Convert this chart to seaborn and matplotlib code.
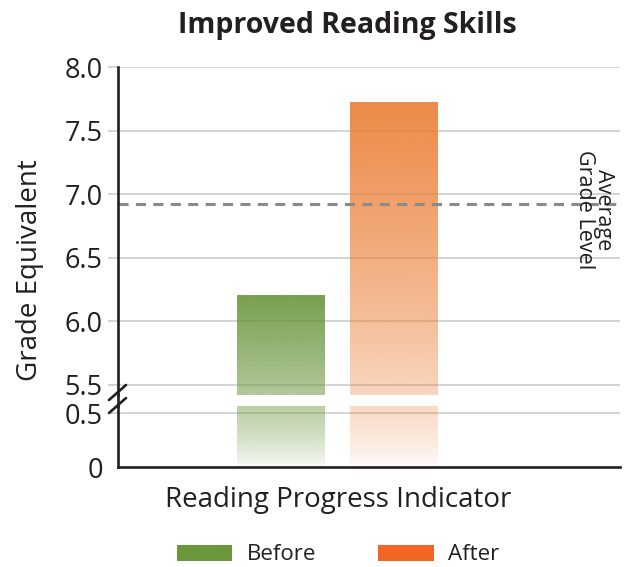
import numpy as np
import pandas as pd
import matplotlib
matplotlib.use("Agg")
import matplotlib.pyplot as plt
from matplotlib.lines import Line2D
from matplotlib.patches import Patch
from matplotlib.colors import to_rgb
import seaborn as sns

# ---- data ----
categories = ["Before", "After"]
values = [6.2, 7.72]
average_grade = 6.92
upper_ticks = [5.5, 6.0, 6.5, 7.0, 7.5, 8.0]
lower_ticks = [0, 0.5]
bar_colors = ["#6a953b", "#eb7d34"]
legend_colors = ["#6b983c", "#f26522"]

sns.set_theme(style="white")
plt.rcParams["font.family"] = ["Open Sans", "DejaVu Sans"]

W, H = 633, 567
fig = plt.figure(figsize=(W / 100, H / 100), dpi=100)


def rect(l, t, r, b):
    return [l / W, 1 - b / H, (r - l) / W, (b - t) / H]


ax_up = fig.add_axes(rect(118, 67, 620, 395))
ax_lo = fig.add_axes(rect(118, 406, 620, 467))

df = pd.DataFrame({"cat": categories, "val": values})
pal = dict(zip(categories, bar_colors))
for ax in (ax_up, ax_lo):
    sns.barplot(data=df, x="cat", y="val", hue="cat", palette=pal, ax=ax,
                width=0.78, legend=False, order=categories)

XLIM = (-1.449, 3.013)
YUP = (5.421, 8.0)
YLO = (0.0, 0.565)
for ax, yl in ((ax_up, YUP), (ax_lo, YLO)):
    ax.set_xlim(*XLIM)
    ax.set_ylim(*yl)
    ax.set_xlabel("")
    ax.set_ylabel("")
    ax.set_xticks([])

spine_c = "#231f20"
grid_c = "#c9c9c9"
# gridlines
for t in upper_ticks:
    ax_up.axhline(t, color=grid_c, lw=1.1, zorder=0.5)
ax_lo.axhline(0.5, color=grid_c, lw=1.1, zorder=0.5)

# gradient fill of bars
pix_zero = ax_lo.transData.transform((0, 0))[1]
for ax, yl in ((ax_up, YUP), (ax_lo, YLO)):
    for i, p in enumerate(ax.patches):
        x0, w = p.get_x(), p.get_width()
        top_val = values[i]
        pix_top = ax_up.transData.transform((0, top_val))[1]
        y_lo = yl[0]
        y_hi = min(top_val, yl[1])
        ys = np.linspace(y_hi, y_lo, 200)
        pix = ax.transData.transform(np.column_stack([np.zeros_like(ys), ys]))[:, 1]
        frac = np.clip((pix - pix_zero) / (pix_top - pix_zero), 0, 1)
        alpha = 0.9 * frac ** 0.65
        rgb = to_rgb(bar_colors[i])
        img = np.zeros((len(ys), 1, 4))
        img[:, 0, :3] = rgb
        img[:, 0, 3] = alpha
        ax.imshow(img, extent=[x0, x0 + w, y_lo, y_hi], aspect="auto",
                  interpolation="bilinear", zorder=1)
        p.set_alpha(0)
    ax.set_xlim(*XLIM)
    ax.set_ylim(*yl)

# average line
ax_up.axhline(average_grade, color="#8a8a8a", lw=2.2, dashes=(3.3, 2.4), zorder=3)

# ticks
ax_up.set_yticks(upper_ticks)
ax_up.set_yticklabels([f"{t:.1f}" for t in upper_ticks])
ax_lo.set_yticks(lower_ticks)
ax_lo.set_yticklabels(["0", "0.5"])
for ax in (ax_up, ax_lo):
    ax.tick_params(axis="y", length=7, width=1.1, color=grid_c, pad=4,
                   labelsize=19.5, labelcolor=spine_c, left=True)
    for s in ("top", "right"):
        ax.spines[s].set_visible(False)
    ax.spines["left"].set_color(spine_c)
    ax.spines["left"].set_linewidth(1.9)
    ax.spines["left"].set_zorder(4)
ax_up.spines["bottom"].set_visible(False)
ax_lo.spines["bottom"].set_color(spine_c)
ax_lo.spines["bottom"].set_linewidth(1.9)
ax_lo.yaxis.get_major_ticks()[0].tick1line.set_visible(False)

# continuous spine across gap and break marks
fig.add_artist(Line2D([118 / W, 118 / W], [1 - 394 / H, 1 - 407 / H],
                      transform=fig.transFigure, color=spine_c, lw=1.9))
for (xa, ya, xb, yb) in ((109, 400, 126, 385), (109, 413, 126, 398)):
    fig.add_artist(Line2D([xa / W, xb / W], [1 - ya / H, 1 - yb / H],
                          transform=fig.transFigure, color=spine_c, lw=1.9))

# texts
fig.text(347 / W, 1 - 25 / H, "Improved Reading Skills", ha="center", va="center",
         fontsize=20.5, fontweight="bold", color=spine_c)
fig.text(30 / W, 1 - 270 / H, "Grade Equivalent", ha="center", va="center",
         rotation=90, fontsize=20, color=spine_c)
fig.text(338 / W, 1 - 500 / H, "Reading Progress Indicator", ha="center", va="center",
         fontsize=20, color=spine_c)
fig.text(594 / W, 1 - 210 / H, "Average\nGrade Level", ha="center", va="center",
         rotation=270, multialignment="center", fontsize=15.5, color=spine_c,
         linespacing=0.9)

handles = [Patch(facecolor=c, edgecolor="none", label=l)
           for c, l in zip(legend_colors, categories)]
fig.legend(handles=handles, loc="center", bbox_to_anchor=(338 / W, 1 - 555 / H),
           ncol=2, frameon=False, fontsize=16, handlelength=2.5, handleheight=0.73,
           handletextpad=0.64, columnspacing=2.8, labelcolor=spine_c)

fig.savefig("out.png", dpi=100)
